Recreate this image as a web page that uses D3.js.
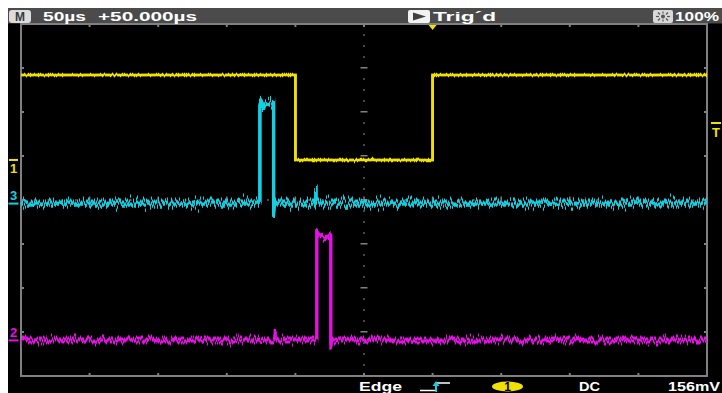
<!DOCTYPE html>
<html>
<head>
<meta charset="utf-8">
<script src="https://cdn.jsdelivr.net/npm/d3@7"></script>
<style>
  html, body { margin: 0; padding: 0; background: #ffffff; }
  svg { display: block; }
  text { font-family: "Liberation Sans", Arial, sans-serif; font-weight: bold; }
</style>
</head>
<body>
<svg id="scope" width="722" height="393"></svg>
<script>
// ---- acquisition settings ----
const timeDomain = [-300, 200];       // µs, 10 divisions at 50 µs/div, trigger at 0
const divDomain = [-4, 4];            // vertical divisions
const xDivs = d3.range(-300, 201, 50);
const yDivs = d3.range(-4, 5, 1);

// ---- channel 1 (yellow): time in µs, level in divisions ----
const ch1T = [-300, -100, -100, 0, 0, 200];
const ch1V = [2.84, 2.84, 0.91, 0.91, 2.84, 2.84];

// ---- channel 3 (cyan) ----
const ch3T = [-300, -125.9, -125.9, -124.6, -123.6, -122.6, -120.0, -117.2, -115.9, -115.9, -115.2, -85.3, -85.1, -84.9, 200];
const ch3V = [-0.07, -0.07, 2.22, 2.25, 2.08, 2.20, 2.22, 2.18, 2.20, -0.36, -0.07, -0.07, 0.27, -0.07, -0.07];

// ---- channel 2 (magenta) ----
const ch2T = [-300, -114.9, -114.8, -114.7, -84.4, -84.4, -82.5, -80.0, -77.0, -74.2, -74.2, -73.6, 200];
const ch2V = [-3.18, -3.18, -2.98, -3.18, -3.18, -0.75, -0.78, -0.85, -0.82, -0.84, -3.36, -3.18, -3.18];

// ---- reference markers ----
const chRefLevels = [0.91, -3.18, -0.07];   // ch1, ch2, ch3 ground markers
const chLabels = ["1", "2", "3"];
const trigLevel = 1.75;                     // divisions
const trigTime = 0;                         // µs

// ---- readouts ----
const topTexts = ["50µs", "+50.000µs", "Trig´d", "100%"];
const bottomTexts = ["Edge", "1", "DC", "156mV"];

const colors = { ch1: "#f0e100", ch2: "#e410e4", ch3: "#12d0e2", grid: "#808080" };

const svg = d3.select("#scope");
const W = 722, H = 393;
const gL = 21, gR = 707, gT = 24, gB = 376;

const x = d3.scaleLinear().domain(timeDomain).range([gL, gR]);
const y = d3.scaleLinear().domain(divDomain).range([gB, gT]);

// noise filters: per-column vertical jitter of the traces
const defs = svg.append("defs");
function jitter(id, scale, seed, freq) {
  const f = defs.append("filter").attr("id", id)
    .attr("filterUnits", "userSpaceOnUse")
    .attr("x", 0).attr("y", 0).attr("width", W).attr("height", H)
    .attr("color-interpolation-filters", "sRGB");
  f.append("feTurbulence").attr("type", "fractalNoise")
    .attr("baseFrequency", `${freq} 0.001`).attr("numOctaves", 2)
    .attr("seed", seed).attr("result", "n");
  const ct = f.append("feComponentTransfer").attr("in", "n").attr("result", "m");
  ct.append("feFuncR").attr("type", "linear").attr("slope", 0).attr("intercept", 0.5);
  ct.append("feFuncA").attr("type", "linear").attr("slope", 0).attr("intercept", 1);
  f.append("feDisplacementMap").attr("in", "SourceGraphic").attr("in2", "m")
    .attr("scale", scale).attr("xChannelSelector", "R").attr("yChannelSelector", "G");
}
jitter("nz1a", 4, 4, 0.5);
jitter("nz1b", 5, 21, 0.5);
jitter("nz2a", 14, 9, 0.6);
jitter("nz2b", 16, 31, 0.6);
jitter("nz3a", 20, 17, 0.6);
jitter("nz3b", 24, 43, 0.6);

// screen background
svg.append("rect").attr("x", 8).attr("y", 8).attr("width", W - 8).attr("height", H - 8).attr("fill", "#000");
// top status bar
svg.append("rect").attr("x", 8).attr("y", 8).attr("width", W - 8).attr("height", 15.5).attr("fill", "#4b4b4b");

// graticule border
svg.append("path")
  .attr("d", `M${gL},${gT}H${gR}V${gB}H${gL}Z`)
  .attr("fill", "none").attr("stroke", colors.grid).attr("stroke-width", 2);

const g = svg.append("g").attr("fill", colors.grid);
// border ticks at every major division
xDivs.slice(1, -1).forEach(t => {
  g.append("rect").attr("x", x(t) - 1).attr("y", gT + 1).attr("width", 2).attr("height", 2);
  g.append("rect").attr("x", x(t) - 1).attr("y", gB - 3).attr("width", 2).attr("height", 2);
});
yDivs.slice(1, -1).forEach(v => {
  g.append("rect").attr("x", gL + 1).attr("y", y(v) - 1).attr("width", 2).attr("height", 2);
  g.append("rect").attr("x", gR - 3).attr("y", y(v) - 1).attr("width", 2).attr("height", 2);
});

// centre crosshair
const cx = x(-50), cy = y(0);
yDivs.slice(1, -1).forEach(v => {
  g.append("rect").attr("x", cx - 3.5).attr("y", y(v) - 1).attr("width", 7).attr("height", 1.5);
});
d3.range(-4, 4, 0.25).filter(v => v % 1 !== 0).forEach(v => {
  g.append("rect").attr("x", cx - 0.75).attr("y", y(v) - 0.75).attr("width", 1.5).attr("height", 1.5);
});
xDivs.slice(1, -1).forEach(t => {
  g.append("rect").attr("x", x(t) - 0.75).attr("y", cy - 3.5).attr("width", 1.5).attr("height", 7);
});
d3.range(-300, 200, 10).filter(t => t % 50 !== 0).forEach(t => {
  g.append("rect").attr("x", x(t) - 0.75).attr("y", cy - 0.75).attr("width", 1.5).attr("height", 1.5);
});

// traces: each drawn as two jittered passes for a dense, persistent-looking band
const line = d3.line().x(d => x(d[0])).y(d => y(d[1]));
function trace(T, V, color, width, filters) {
  const d = line(d3.zip(T, V));
  filters.forEach(fid => {
    svg.append("path")
      .attr("d", d)
      .attr("fill", "none").attr("stroke", color)
      .attr("stroke-width", width).attr("stroke-linejoin", "miter")
      .attr("filter", `url(#${fid})`);
  });
}
trace(ch1T, ch1V, colors.ch1, 2.6, ["nz1a", "nz1b"]);
trace(ch3T, ch3V, colors.ch3, 3.2, ["nz3a", "nz3b"]);
trace(ch2T, ch2V, colors.ch2, 3.0, ["nz2a", "nz2b"]);

// channel ground markers on the left edge
const chColors = [colors.ch1, colors.ch2, colors.ch3];
chRefLevels.forEach((v, i) => {
  const yy = y(v);
  const col = chColors[i];
  if (i === 0) {
    svg.append("rect").attr("x", 9).attr("y", yy - 1).attr("width", 9).attr("height", 2).attr("fill", col);
    svg.append("text").attr("x", 13.5).attr("y", yy + 13).attr("text-anchor", "middle")
      .attr("font-size", 13).attr("fill", col).text(chLabels[i]);
  } else {
    svg.append("rect").attr("x", 8.5).attr("y", yy - 0.5).attr("width", 10).attr("height", 2).attr("fill", col);
    svg.append("text").attr("x", 13.5).attr("y", yy - 3).attr("text-anchor", "middle")
      .attr("font-size", 13).attr("fill", col).text(chLabels[i]);
  }
});

// trigger level marker (right edge)
const ty = y(trigLevel);
svg.append("rect").attr("x", 711).attr("y", ty - 1).attr("width", 10).attr("height", 2).attr("fill", colors.ch1);
svg.append("text").attr("x", 716).attr("y", ty + 14).attr("text-anchor", "middle")
  .attr("font-size", 13).attr("fill", colors.ch1).text("T");

// trigger position marker (top edge)
const tx = x(trigTime);
svg.append("path").attr("d", `M${tx - 4},${gT + 1}H${tx + 4}L${tx},${gT + 6}Z`).attr("fill", colors.ch1);

// ---- top readouts ----
svg.append("rect").attr("x", 9).attr("y", 10).attr("width", 22).attr("height", 13).attr("rx", 3).attr("fill", "#dcdcdc");
svg.append("text").attr("x", 20).attr("y", 21).attr("text-anchor", "middle").attr("font-size", 12)
  .attr("font-weight", "normal").attr("fill", "#3a3a3a").text("M");

function readout(str, x0, x1, yb, fill) {
  svg.append("text").attr("x", x0).attr("y", yb).attr("font-size", 13).attr("fill", fill || "#fff")
    .attr("textLength", x1 - x0).attr("lengthAdjust", "spacingAndGlyphs").text(str);
}
readout(topTexts[0], 43, 86, 21);
readout(topTexts[1], 98, 197, 21);

svg.append("rect").attr("x", 408).attr("y", 10).attr("width", 22).attr("height", 13).attr("rx", 2).attr("fill", "#f2f2f2");
svg.append("path").attr("d", "M413,12.5L426,16.5L413,20.5Z").attr("fill", "#404040");
readout(topTexts[2], 433, 496, 21);

svg.append("rect").attr("x", 653).attr("y", 10).attr("width", 20).attr("height", 13).attr("rx", 2).attr("fill", "#d8d8d8");
const sun = svg.append("g").attr("stroke", "#555").attr("stroke-width", 1.2);
[[0, -5, 0, -3], [0, 3, 0, 5], [-7, 0, -4, 0], [4, 0, 7, 0], [-5, -4, -3, -2], [3, 2, 5, 4], [-5, 4, -3, 2], [3, -2, 5, -4]]
  .forEach(s => sun.append("line").attr("x1", 663 + s[0]).attr("y1", 16.5 + s[1]).attr("x2", 663 + s[2]).attr("y2", 16.5 + s[3]));
svg.append("circle").attr("cx", 663).attr("cy", 16.5).attr("r", 2).attr("fill", "#555");
readout(topTexts[3], 675, 719, 21);

// ---- bottom readouts ----
readout(bottomTexts[0], 359, 402, 391);
// rising edge symbol
svg.append("path").attr("d", "M420,390.5H436V383H450").attr("fill", "none").attr("stroke", "#fff").attr("stroke-width", 1.3);
svg.append("path").attr("d", "M436,381L432.5,386H439.5Z").attr("fill", colors.ch3);
svg.append("rect").attr("x", 435.2).attr("y", 385).attr("width", 1.8).attr("height", 7).attr("fill", colors.ch3);
// trigger source badge
svg.append("ellipse").attr("cx", 507.5).attr("cy", 386.5).attr("rx", 15.5).attr("ry", 5).attr("fill", colors.ch1);
svg.append("text").attr("x", 507.5).attr("y", 391).attr("text-anchor", "middle").attr("font-size", 12)
  .attr("fill", "#000").text(bottomTexts[1]);
readout(bottomTexts[2], 579, 600, 391);
readout(bottomTexts[3], 668, 720, 391);
</script>
</body>
</html>
